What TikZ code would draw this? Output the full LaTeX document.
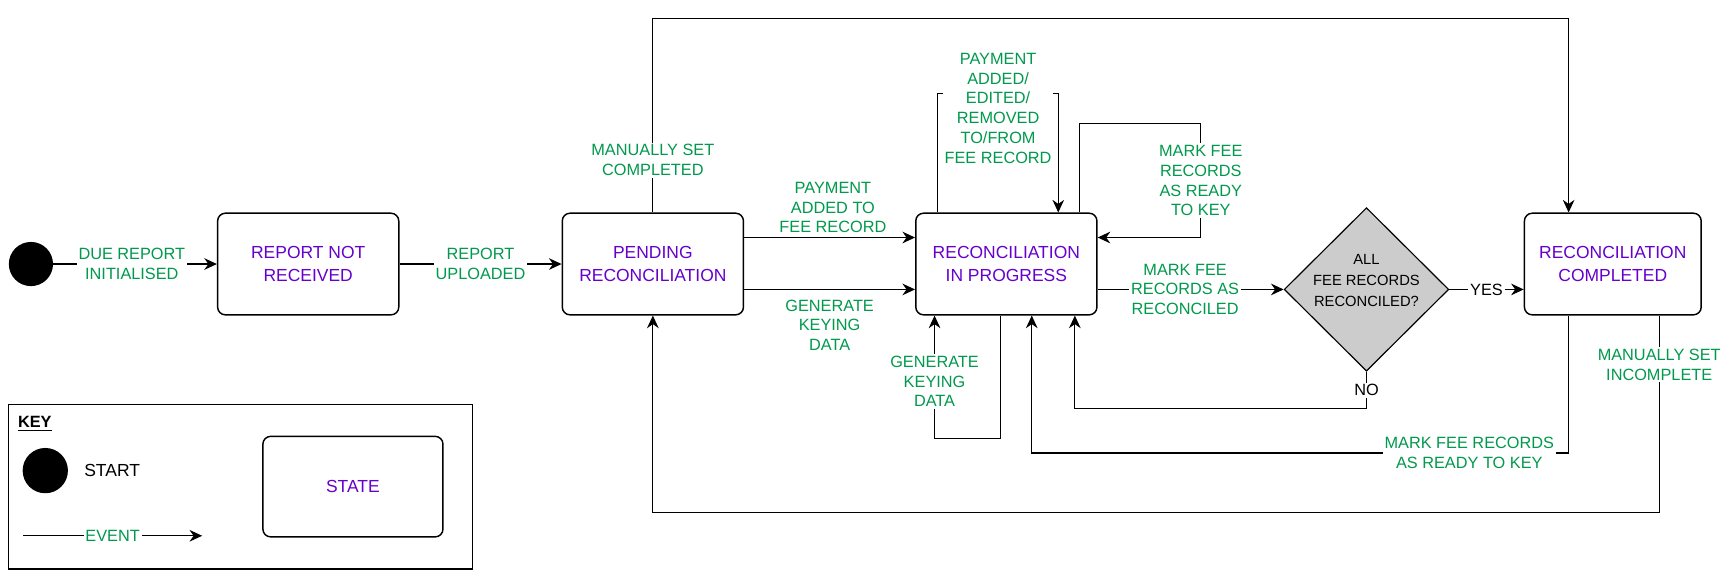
\documentclass[tikz,border=0pt]{standalone}
\usepackage{fontspec}
\setmainfont{Liberation Sans}
\usetikzlibrary{shapes.geometric,arrows.meta}

\definecolor{evgreen}{RGB}{0,153,77}
\definecolor{stpurple}{RGB}{102,0,204}
\definecolor{decgray}{RGB}{204,204,204}

\begin{document}
\begin{tikzpicture}[x=0.2mm,y=-0.2mm,
        statebox/.style={draw,line width=0.75pt,rounded corners=4pt,minimum width=3.28cm,minimum height=1.84cm,align=center,text=stpurple,font=\fontsize{9}{11.4}\selectfont},
        evlabel/.style={fill=white,text=evgreen,align=center,inner sep=1pt,font=\fontsize{8.4}{10.2}\selectfont},
        plainlabel/.style={fill=white,inner sep=1pt,font=\fontsize{8.4}{10.2}\selectfont},
        conn/.style={line width=0.6pt,-{Stealth[length=6.5pt,width=6pt]}}]
        \useasboundingbox (0,0) rectangle (1567,524);

        %%%%%%%%%% Stati %%%%%%%%%%
        \node[circle,fill=black,minimum size=0.8cm,inner sep=0pt] (start) at (28,239) {};
        \node[statebox] (notrec) at (279,239) {REPORT NOT\\RECEIVED};
        \node[statebox] (pending) at (591,239) {PENDING\\RECONCILIATION};
        \node[statebox] (progress) at (911,239) {RECONCILIATION\\IN PROGRESS};
        \node[statebox,minimum width=3.2cm] (completed) at (1460,239) {RECONCILIATION\\COMPLETED};

        %%%%%%%%% Decisione %%%%%%%%
        \node[diamond,draw,fill=decgray,line width=0.6pt,minimum width=2.98cm,minimum height=2.96cm,inner sep=0pt] (check) at (1237,262) {};
        \node[align=center,font=\fontsize{7.6}{11}\selectfont] (checktxt) at (1237,254) {ALL\\FEE RECORDS\\RECONCILED?};

        %%%%%%%%%% Eventi %%%%%%%%%%
        \draw[conn] (start) -- node[evlabel,xshift=-0.6mm] (lbldue) {DUE REPORT\\INITIALISED} (notrec);
        \draw[conn] (notrec) -- node[evlabel] (lblupl) {REPORT\\UPLOADED} (pending);
        \draw[conn] (pending.east |- 0,215) -- node[evlabel,above=1pt,xshift=0.6mm] (lblpay) {PAYMENT\\ADDED TO\\FEE RECORD} (progress.west |- 0,215);
        \draw[conn] (pending.east |- 0,262) -- node[evlabel,below=4pt] (lblgen) {GENERATE\\KEYING\\DATA} (progress.west |- 0,262);
        \draw[conn] (progress.north -| 849,0) -- (849,85) -- node[evlabel,yshift=-2.6mm] (lbledit) {PAYMENT\\ADDED/\\EDITED/\\REMOVED\\TO/FROM\\FEE RECORD} (958,85) -- (progress.north -| 958,0);
        \draw[conn] (progress.north -| 977,0) -- (977,112) -- (1087,112) -- node[evlabel] (lblready) {MARK FEE\\RECORDS\\AS READY\\TO KEY} (1087,215) -- (progress.east |- 0,215);
        \draw[conn] (progress.south -| 906,0) -- (906,397) -- (846,397) -- node[evlabel,yshift=-0.8mm] (lblgenb) {GENERATE\\KEYING\\DATA} (progress.south -| 846,0);
        \draw[conn] (progress.east |- check) -- node[evlabel,xshift=-1mm] (lblrec) {MARK FEE\\RECORDS AS\\RECONCILED} (check.west);
        \draw[conn] (check.east) -- node[plainlabel] (lblyes) {YES} (completed.west |- check);
        \draw[conn] (check.south) -- node[plainlabel] (lblno) {NO} (1237,370) -- (973,370) -- (progress.south -| 973,0);
        \draw[conn] (completed.south -| 1420,0) -- (1420,410) -- node[evlabel,pos=0.185] (lblback) {MARK FEE RECORDS\\AS READY TO KEY} (934,410) -- (progress.south -| 934,0);
        \draw[conn] (completed.south -| 1502,0) -- node[evlabel,pos=0.25] (lblinc) {MANUALLY SET\\INCOMPLETE} (1502,464) -- (591,464) -- (pending.south);
        \draw[conn] (pending.north) -- node[evlabel,pos=0.27] (lblcompl) {MANUALLY SET\\COMPLETED} (591,17) -- (1420,17) -- (completed.north -| 1420,0);

        %%%%%%%%%% Legenda %%%%%%%%%%
        \node[draw,line width=0.6pt,minimum width=8.4cm,minimum height=2.98cm,inner sep=0pt] (keyframe) at (218,440.5) {};
        \node[anchor=west,inner sep=0pt,font=\bfseries\fontsize{8.4}{10}\selectfont] (keytitle) at (16,384) {\underline{KEY}};
        \node[circle,fill=black,minimum size=0.82cm,inner sep=0pt] (keystart) at (41,426) {};
        \node[anchor=west,inner sep=0pt,font=\fontsize{9}{11}\selectfont] (keystarttxt) at (76,426) {START};
        \node[statebox,minimum width=3.26cm,minimum height=1.82cm] (keystate) at (319.5,440.5) {STATE};
        \coordinate (evfrom) at (21,485);
        \coordinate (evto) at (183,485);
        \draw[conn] (evfrom) -- node[evlabel] (keyevent) {EVENT} (evto);
    \end{tikzpicture}
\end{document}
